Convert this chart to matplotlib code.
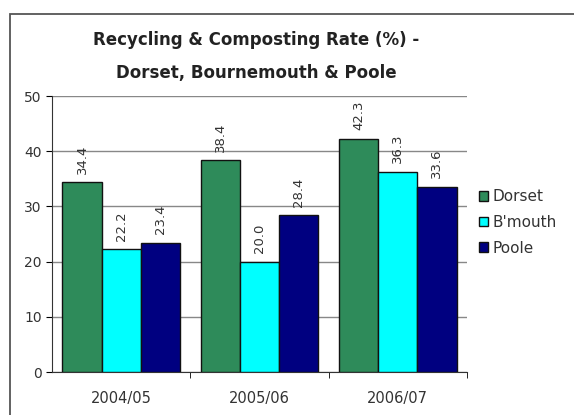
import matplotlib
matplotlib.use("Agg")
import matplotlib.pyplot as plt
import numpy as np
from matplotlib.patches import Rectangle

plt.rcParams.update({
    "font.family": ["DejaVu Sans"],
})

years = ["2004/05", "2005/06", "2006/07"]
series_names = ["Dorset", "B'mouth", "Poole"]
dorset = [34.4, 38.4, 42.3]
bmouth = [22.2, 20.0, 36.3]
poole = [23.4, 28.4, 33.6]
colors = ["#2e8b5a", "#00ffff", "#000080"]

fig = plt.figure(figsize=(5.74, 4.15), dpi=100)
# chart area frame
fig.patches.append(Rectangle((10 / 574, -0.05), 1.0, 1 - 14 / 415 + 0.05,
                             transform=fig.transFigure, fill=False,
                             edgecolor="#555555", linewidth=1.3))

ax = fig.add_axes([52 / 574, 1 - 372 / 415, 415 / 574, 276 / 415])

x = np.arange(len(years))
w = 0.283
for i, (name, vals) in enumerate(zip(series_names, [dorset, bmouth, poole])):
    pos = x + (i - 1) * w
    bars = ax.bar(pos, vals, width=w, color=colors[i], edgecolor="#111111",
                  linewidth=1.0, label=name, zorder=3)
    for b, v in zip(bars, vals):
        ax.annotate(f"{v:.1f}", (b.get_x() + b.get_width() / 2, v),
                    xytext=(0, 6), textcoords="offset points",
                    rotation=90, ha="center", va="bottom", fontsize=9.5,
                    color="#333333")

ax.set_xlim(-0.5, 2.5)
ax.set_ylim(0, 50)
ax.set_yticks(range(0, 51, 10))
ax.yaxis.grid(True, color="#888888", linewidth=1.0, zorder=0)
ax.set_axisbelow(True)
ax.set_xticks(x)
ax.set_xticklabels(years, fontsize=10.5, color="#333333")
ax.set_xticks([0.5, 1.5, 2.5], minor=True)
ax.tick_params(axis="x", which="major", length=0, pad=14)
ax.tick_params(axis="x", which="minor", length=4, direction="out")
ax.tick_params(axis="y", labelsize=10, length=4, direction="out",
               labelcolor="#333333")
for s in ["top", "right"]:
    ax.spines[s].set_visible(False)
ax.spines["left"].set_color("#333333")
ax.spines["bottom"].set_color("#333333")

fig.text(0.447, 1 - 40 / 415, "Recycling & Composting Rate (%) -",
         ha="center", va="center", fontsize=12, fontweight="bold",
         color="#222222")
fig.text(0.447, 1 - 73 / 415, "Dorset, Bournemouth & Poole",
         ha="center", va="center", fontsize=12, fontweight="bold",
         color="#222222")

fig.legend(loc="upper left", bbox_to_anchor=(473 / 574, 1 - 183 / 415),
           frameon=False, fontsize=11, handlelength=0.6, handleheight=0.6,
           handletextpad=0.3, labelspacing=0.7, borderaxespad=0,
           labelcolor="#333333")

fig.savefig("out.png", dpi=100)
